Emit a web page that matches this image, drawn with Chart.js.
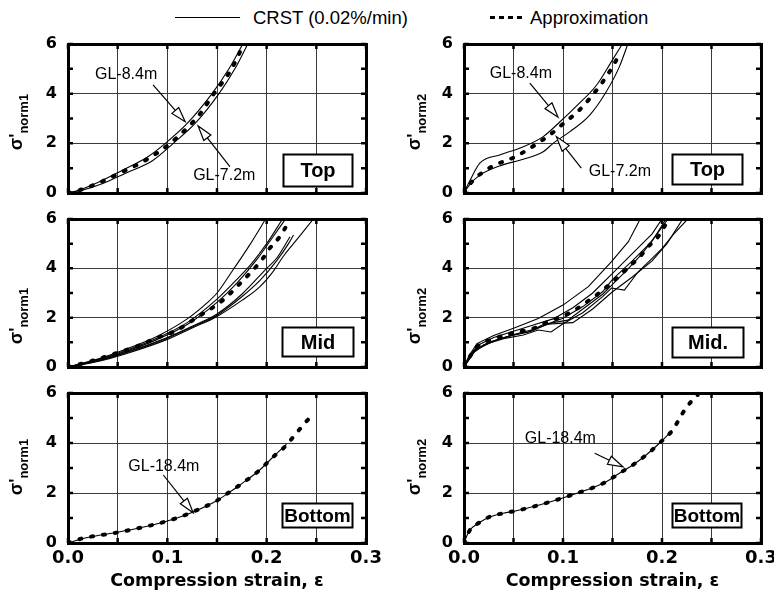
<!DOCTYPE html>
<html>
<head>
<meta charset="utf-8">
<script src="https://cdn.jsdelivr.net/npm/chart.js@4.4.1/dist/chart.umd.min.js"></script>
<style>
  body { margin: 0; background: #fff; width: 774px; height: 598px; position: relative; overflow: hidden; font-family: "Liberation Sans", Arial, sans-serif; }
  canvas { position: absolute; }
  .lg-text { position: absolute; top: 7px; font-size: 18.5px; line-height: 22px; color: #000; white-space: nowrap; }
  .lg-solid { position: absolute; left: 175px; top: 17px; width: 65px; border-top: 1px solid #000; }
  .lg-dash { position: absolute; left: 490px; top: 16px; width: 33px; height: 3px;
             background: repeating-linear-gradient(90deg, #000 0 5px, transparent 5px 9px); }
</style>
</head>
<body>
<div class="lg-solid"></div>
<div class="lg-text" style="left:253px">CRST (0.02%/min)</div>
<div class="lg-dash"></div>
<div class="lg-text" style="left:530px">Approximation</div>

<canvas id="c1"></canvas>
<canvas id="c2"></canvas>
<canvas id="c3"></canvas>
<canvas id="c4"></canvas>
<canvas id="c5"></canvas>
<canvas id="c6"></canvas>

<script>
// axis ticks
const strainTickLabels = ['0.0', '0.1', '0.2', '0.3'];
const stressTickLabels = ['0', '2', '4', '6'];

// [strain, normalised stress]
// Top, sigma'norm1
const top1Gl84 = [[0, 0], [0.01, 0.1], [0.03, 0.42], [0.053, 0.88], [0.08, 1.45], [0.098, 2.0], [0.12, 2.8], [0.145, 4.0], [0.162, 5.0], [0.176, 6.0]];
const top1Gl72 = [[0, 0], [0.015, 0.12], [0.035, 0.38], [0.058, 0.8], [0.085, 1.3], [0.106, 2.0], [0.128, 2.8], [0.152, 4.0], [0.168, 5.0], [0.181, 6.0]];
const top1Approx = [[0, 0], [0.012, 0.12], [0.03, 0.39], [0.053, 0.82], [0.0785, 1.33], [0.102, 1.97], [0.122, 2.7], [0.132, 3.14], [0.147, 4.01], [0.164, 4.95], [0.174, 5.75]];

// Top, sigma'norm2
const top2Gl84 = [[0, 0], [0.006, 0.5], [0.016, 1.2], [0.036, 1.53], [0.06, 1.86], [0.08, 2.27], [0.097, 2.87], [0.113, 3.48], [0.134, 4.35], [0.15, 5.36], [0.16, 6.0]];
const top2Gl72 = [[0, 0], [0.006, 0.35], [0.016, 0.72], [0.036, 1.09], [0.06, 1.36], [0.08, 1.66], [0.09, 2.0], [0.107, 2.47], [0.127, 3.14], [0.1437, 4.08], [0.157, 5.09], [0.1655, 6.0]];
const top2Approx = [[0, 0], [0.008, 0.46], [0.0198, 0.86], [0.0316, 1.13], [0.0517, 1.46], [0.0685, 1.85], [0.0886, 2.4], [0.102, 2.85], [0.1155, 3.3], [0.132, 4.05], [0.1457, 4.8], [0.156, 5.5]];

// Mid, sigma'norm1
const mid1A = [[0, 0], [0.03, 0.32], [0.06, 0.75], [0.09, 1.25], [0.12, 1.95], [0.14, 2.6], [0.15, 3.0], [0.163, 3.75], [0.183, 4.95], [0.199, 6.0]];
const mid1B = [[0, 0], [0.03, 0.3], [0.06, 0.7], [0.09, 1.18], [0.12, 1.8], [0.15, 2.75], [0.17, 3.55], [0.185, 4.2], [0.2, 5.0], [0.216, 6.0]];
const mid1C = [[0, 0], [0.03, 0.28], [0.06, 0.66], [0.09, 1.12], [0.12, 1.72], [0.15, 2.62], [0.17, 3.4], [0.19, 4.35], [0.205, 5.2], [0.219, 6.0]];
const mid1D = [[0, 0], [0.03, 0.25], [0.06, 0.62], [0.1, 1.2], [0.125, 1.65], [0.15, 2.15], [0.175, 2.95], [0.2, 4.0], [0.21, 4.41], [0.2235, 5.28]];
const mid1E = [[0, 0], [0.03, 0.24], [0.06, 0.6], [0.1, 1.17], [0.125, 1.62], [0.15, 2.1], [0.175, 2.85], [0.193, 3.5], [0.21, 4.3], [0.222, 5.0], [0.227, 5.35]];
const mid1F = [[0, 0], [0.03, 0.22], [0.06, 0.56], [0.1, 1.12], [0.125, 1.58], [0.15, 2.05], [0.175, 2.7], [0.193, 3.25], [0.207, 3.9], [0.217, 4.5], [0.227, 5.0], [0.234, 5.35], [0.247, 6.0]];
const mid1Approx = [[0, 0], [0.02, 0.2], [0.05, 0.58], [0.07, 0.85], [0.089, 1.17], [0.108, 1.46], [0.131, 2.04], [0.155, 2.68], [0.175, 3.46], [0.195, 4.34], [0.203, 4.81], [0.212, 5.22], [0.2195, 5.69]];

// Mid, sigma'norm2
const mid2A = [[0, 0], [0.005, 0.45], [0.013, 0.95], [0.03, 1.28], [0.05, 1.57], [0.075, 1.97], [0.1, 2.51], [0.1256, 3.26], [0.149, 4.27], [0.166, 5.08], [0.178, 6.0]];
const mid2B = [[0, 0], [0.006, 0.5], [0.015, 0.9], [0.03, 1.2], [0.05, 1.45], [0.07, 1.7], [0.09, 1.95], [0.11, 2.4], [0.13, 3.0], [0.15, 3.8], [0.17, 4.6], [0.19, 5.4], [0.2, 6.0]];
const mid2C = [[0, 0], [0.008, 0.55], [0.02, 0.88], [0.035, 1.12], [0.05, 1.3], [0.068, 1.45], [0.085, 1.75], [0.1, 1.98], [0.12, 2.45], [0.14, 3.05], [0.15, 3.55], [0.17, 4.3], [0.19, 5.1], [0.204, 6.0]];
const mid2D = [[0, 0], [0.01, 0.6], [0.02, 0.9], [0.04, 1.15], [0.06, 1.3], [0.075, 1.5], [0.088, 1.42], [0.1, 1.75], [0.12, 2.2], [0.14, 2.85], [0.149, 3.2], [0.162, 3.12], [0.176, 3.86], [0.19, 4.4], [0.2, 4.8], [0.212, 5.4], [0.226, 6.0]];
const mid2E = [[0, 0], [0.012, 0.7], [0.025, 1.0], [0.045, 1.25], [0.065, 1.42], [0.08, 1.72], [0.1, 1.78], [0.11, 1.8], [0.13, 2.35], [0.15, 3.05], [0.17, 3.65], [0.19, 4.3], [0.205, 5.0], [0.221, 6.0]];
const mid2F = [[0, 0], [0.01, 0.65], [0.03, 1.05], [0.05, 1.32], [0.07, 1.52], [0.09, 1.8], [0.105, 1.9], [0.12, 2.35], [0.14, 2.95], [0.15, 3.35], [0.165, 3.95], [0.18, 4.6], [0.195, 5.4], [0.206, 6.0]];
const mid2Approx = [[0, 0], [0.003, 0.22], [0.013, 0.82], [0.0316, 1.16], [0.048, 1.37], [0.072, 1.59], [0.085, 1.84], [0.0987, 2.04], [0.112, 2.31], [0.122, 2.58], [0.134, 2.92], [0.1457, 3.3], [0.156, 3.66], [0.167, 4.07], [0.1776, 4.47], [0.186, 4.88], [0.196, 5.28], [0.2034, 5.76]];

// Bottom, sigma'norm1
const bot1Gl184 = [[0, 0], [0.015, 0.18], [0.029, 0.29], [0.0456, 0.4], [0.0658, 0.55], [0.089, 0.76], [0.109, 0.99], [0.126, 1.24], [0.1497, 1.69], [0.163, 2.04], [0.173, 2.32], [0.193, 2.92], [0.2067, 3.45], [0.22, 3.95]];
const bot1Approx = [[0, 0], [0.015, 0.19], [0.029, 0.29], [0.0456, 0.39], [0.0658, 0.55], [0.089, 0.76], [0.109, 0.99], [0.126, 1.25], [0.1497, 1.69], [0.163, 2.05], [0.173, 2.32], [0.193, 2.92], [0.2067, 3.45], [0.2168, 3.79], [0.227, 4.25], [0.2353, 4.65], [0.2437, 5.03]];

// Bottom, sigma'norm2
const bot2Gl184 = [[0, 0], [0.003, 0.3], [0.006, 0.52], [0.0144, 0.79], [0.026, 1.04], [0.0396, 1.19], [0.053, 1.29], [0.0732, 1.49], [0.09, 1.68], [0.1034, 1.85], [0.117, 2.03], [0.13, 2.21], [0.1437, 2.45], [0.157, 2.79], [0.1705, 3.12], [0.184, 3.52], [0.199, 4.05], [0.21, 4.5]];
const bot2Approx = [[0, 0], [0.006, 0.52], [0.0144, 0.79], [0.026, 1.05], [0.0396, 1.19], [0.053, 1.29], [0.0732, 1.49], [0.09, 1.68], [0.1034, 1.85], [0.117, 2.03], [0.13, 2.21], [0.1437, 2.45], [0.157, 2.79], [0.1705, 3.12], [0.184, 3.52], [0.199, 4.05], [0.2108, 4.52], [0.2208, 5.19], [0.2293, 5.65], [0.236, 5.92]];

const panels = [
  { id: 'c1', rect: [0, 30, 390, 170], plot: [68, 44, 366, 193], approx: top1Approx, crst: [top1Gl84, top1Gl72], smooth: true,
    xLabels: false, sub: 'norm1', titleX: 22, titleY: 92,
    label: { text: 'Top', x0: 0.2165, x1: 0.286, y0: 0.28, y1: 1.57, size: 20 },
    notes: [{ text: 'GL-8.4m', at: [0.0272, 4.75], from: [0.0856, 4.35], to: [0.118, 2.87] },
            { text: 'GL-7.2m', at: [0.126, 0.72], from: [0.163, 1.06], to: [0.131, 2.7] }] },
  { id: 'c2', rect: [390, 30, 384, 170], plot: [464, 44, 761, 193], approx: top2Approx, crst: [top2Gl84, top2Gl72], smooth: true,
    xLabels: false, sub: 'norm2', titleX: 30, titleY: 92,
    label: { text: 'Top', x0: 0.2105, x1: 0.281, y0: 0.36, y1: 1.57, size: 20 },
    notes: [{ text: 'GL-8.4m', at: [0.026, 4.79], from: [0.0665, 4.42], to: [0.095, 3.05] },
            { text: 'GL-7.2m', at: [0.126, 0.86], from: [0.1185, 1.0], to: [0.0933, 2.27] }] },
  { id: 'c3', rect: [0, 200, 390, 175], plot: [68, 219, 366, 367], approx: mid1Approx, crst: [mid1A, mid1B, mid1C, mid1D, mid1E, mid1F], smooth: true,
    xLabels: false, sub: 'norm1', titleX: 22, titleY: 116,
    label: { text: 'Mid', x0: 0.2155, x1: 0.287, y0: 0.45, y1: 1.62, size: 20 },
    notes: [] },
  { id: 'c4', rect: [390, 200, 384, 175], plot: [464, 219, 761, 367], approx: mid2Approx, crst: [mid2A, mid2B, mid2C, mid2D, mid2E, mid2F], smooth: false,
    xLabels: false, sub: 'norm2', titleX: 30, titleY: 116,
    label: { text: 'Mid.', x0: 0.2105, x1: 0.282, y0: 0.41, y1: 1.62, size: 20 },
    notes: [] },
  { id: 'c5', rect: [0, 375, 390, 223], plot: [68, 393, 366, 543], approx: bot1Approx, crst: [bot1Gl184], smooth: true,
    xLabels: true, sub: 'norm1', titleX: 22, titleY: 92,
    label: { text: 'Bottom', x0: 0.2155, x1: 0.286, y0: 0.64, y1: 1.6, size: 19 },
    notes: [{ text: 'GL-18.4m', at: [0.0607, 3.05], from: [0.096, 2.72], to: [0.126, 1.21] }] },
  { id: 'c6', rect: [390, 375, 384, 223], plot: [464, 393, 761, 543], approx: bot2Approx, crst: [bot2Gl184], smooth: true,
    xLabels: true, sub: 'norm2', titleX: 30, titleY: 92,
    label: { text: 'Bottom', x0: 0.2105, x1: 0.28, y0: 0.64, y1: 1.6, size: 19 },
    notes: [{ text: 'GL-18.4m', at: [0.0614, 4.19], from: [0.132, 3.59], to: [0.1605, 3.05] }] }
];

function toPoints(pairs) {
  return pairs.map(p => ({ x: p[0], y: p[1] }));
}

function drawArrow(ctx, x0, y0, x1, y1) {
  const ang = Math.atan2(y1 - y0, x1 - x0);
  const len = 15, half = 4.5;
  const bx = x1 - len * Math.cos(ang), by = y1 - len * Math.sin(ang);
  ctx.beginPath();
  ctx.moveTo(x0, y0);
  ctx.lineTo(bx, by);
  ctx.stroke();
  ctx.beginPath();
  ctx.moveTo(x1, y1);
  ctx.lineTo(bx + half * Math.sin(ang), by - half * Math.cos(ang));
  ctx.lineTo(bx - half * Math.sin(ang), by + half * Math.cos(ang));
  ctx.closePath();
  ctx.fillStyle = '#fff';
  ctx.fill();
  ctx.stroke();
}

// frame, inner ticks, y title, panel label and arrows
function panelPlugin(p) {
  return {
    id: 'panel_' + p.id,
    afterDraw(chart) {
      const { ctx, chartArea: a, scales: { x, y } } = chart;
      ctx.save();
      ctx.strokeStyle = '#000';
      ctx.lineWidth = 2.5;
      ctx.beginPath();
      x.ticks.forEach(t => {
        const px = x.getPixelForValue(t.value);
        ctx.moveTo(px, a.top); ctx.lineTo(px, a.top + 5);
        ctx.moveTo(px, a.bottom); ctx.lineTo(px, a.bottom - 5);
      });
      y.ticks.forEach(t => {
        const py = y.getPixelForValue(t.value);
        ctx.moveTo(a.left, py); ctx.lineTo(a.left + 5, py);
        ctx.moveTo(a.right, py); ctx.lineTo(a.right - 5, py);
      });
      ctx.stroke();

      ctx.lineWidth = 3;
      ctx.strokeRect(Math.round(a.left) + 0.5, Math.round(a.top) + 0.5, Math.round(a.width), Math.round(a.height));

      // label box
      const lb = p.label;
      const bx0 = Math.round(x.getPixelForValue(lb.x0)) + 0.5, bx1 = Math.round(x.getPixelForValue(lb.x1)) + 0.5;
      const by0 = Math.round(y.getPixelForValue(lb.y1)) + 0.5, by1 = Math.round(y.getPixelForValue(lb.y0)) + 0.5;
      ctx.fillStyle = '#fff';
      ctx.fillRect(bx0, by0, bx1 - bx0, by1 - by0);
      ctx.lineWidth = 2;
      ctx.strokeRect(bx0, by0, bx1 - bx0, by1 - by0);
      ctx.fillStyle = '#000';
      ctx.font = 'bold ' + lb.size + 'px "Liberation Sans", Arial';
      ctx.textAlign = 'center';
      ctx.textBaseline = 'middle';
      ctx.fillText(lb.text, (bx0 + bx1) / 2, (by0 + by1) / 2 + 1);

      // GL notes
      ctx.lineWidth = 1.2;
      ctx.font = '16px "Liberation Sans", Arial';
      ctx.textAlign = 'left';
      p.notes.forEach(n => {
        ctx.fillStyle = '#000';
        ctx.fillText(n.text, x.getPixelForValue(n.at[0]), y.getPixelForValue(n.at[1]));
        drawArrow(ctx, x.getPixelForValue(n.from[0]), y.getPixelForValue(n.from[1]),
                  x.getPixelForValue(n.to[0]), y.getPixelForValue(n.to[1]));
      });

      // y title  sigma' with subscript
      const big = 'bold 18px "Liberation Sans", Arial';
      const small = 'bold 13px "Liberation Sans", Arial';
      ctx.fillStyle = '#000';
      ctx.translate(p.titleX, p.titleY);
      ctx.rotate(-Math.PI / 2);
      ctx.textBaseline = 'alphabetic';
      ctx.font = big;
      const w1 = ctx.measureText("σ'").width;
      ctx.font = small;
      const w2 = ctx.measureText(p.sub).width;
      const s = -(w1 + w2) / 2;
      ctx.font = big;
      ctx.fillText("σ'", s, 0);
      ctx.font = small;
      ctx.fillText(p.sub, s + w1, 6);
      ctx.restore();
    }
  };
}

function makePanel(p) {
  const canvas = document.getElementById(p.id);
  const [cx, cy, cw, ch] = p.rect;
  const [L, T, R, B] = p.plot;
  canvas.width = cw;
  canvas.height = ch;
  canvas.style.left = cx + 'px';
  canvas.style.top = cy + 'px';

  const datasets = [{
    data: toPoints(p.approx),
    borderColor: '#000',
    borderWidth: 4,
    borderDash: [2, 10],
    borderCapStyle: 'round',
    cubicInterpolationMode: 'monotone',
    showLine: true,
    pointRadius: 0
  }];
  p.crst.forEach(c => {
    datasets.push({
      data: toPoints(c),
      borderColor: '#000',
      borderWidth: 1.1,
      cubicInterpolationMode: p.smooth ? 'monotone' : 'default',
      tension: 0,
      showLine: true,
      pointRadius: 0
    });
  });

  new Chart(canvas, {
    type: 'scatter',
    data: { datasets },
    options: {
      responsive: false,
      animation: false,
      devicePixelRatio: 1,
      layout: { autoPadding: false, padding: { top: T - cy, right: cx + cw - R, left: 0, bottom: 0 } },
      plugins: { legend: { display: false }, tooltip: { enabled: false } },
      scales: {
        x: {
          type: 'linear', min: 0, max: 0.3,
          afterFit(scale) { scale.height = cy + ch - B; scale.paddingLeft = 0; scale.paddingRight = 0; },
          grid: { color: '#3a3a3a', lineWidth: 1, drawTicks: false },
          border: { display: false },
          ticks: {
            display: p.xLabels, stepSize: 0.05, padding: 5, color: '#000',
            font: { family: 'DejaVu Sans', weight: 'bold', size: 18 },
            maxRotation: 0, autoSkip: false,
            callback: v => { const k = Math.round(v * 20); return k % 2 === 0 ? strainTickLabels[k / 2] : ''; }
          },
          title: {
            display: p.xLabels, text: 'Compression strain, ε', color: '#000',
            font: { family: 'DejaVu Sans', weight: 'bold', size: 17.5 },
            padding: { top: 0, bottom: 6 }
          }
        },
        y: {
          type: 'linear', min: 0, max: 6,
          afterFit(scale) { scale.width = L - cx; scale.paddingTop = 0; scale.paddingBottom = 0; },
          grid: {
            color: c => (c.tick && c.tick.value % 2 === 0) ? '#3a3a3a' : 'rgba(0,0,0,0)',
            lineWidth: 1, drawTicks: false
          },
          border: { display: false },
          ticks: {
            stepSize: 1, padding: 11, color: '#000', autoSkip: false,
            font: { family: 'DejaVu Sans', weight: 'bold', size: 16 },
            callback: v => v % 2 === 0 ? stressTickLabels[v / 2] : ''
          }
        }
      }
    },
    plugins: [panelPlugin(p)]
  });
}

panels.forEach(makePanel);
</script>
</body>
</html>
